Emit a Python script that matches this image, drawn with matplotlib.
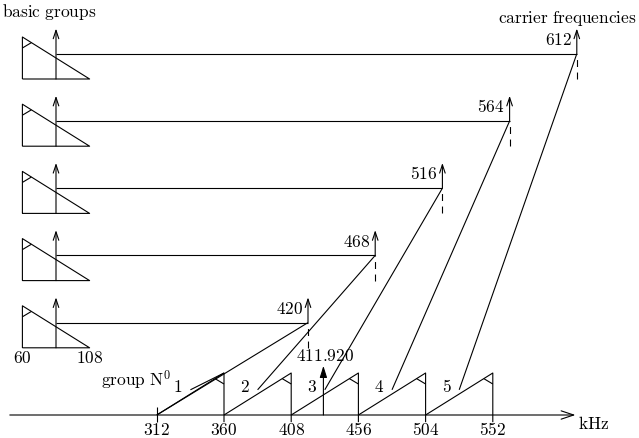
import matplotlib.pyplot as plt

plt.rcParams['mathtext.fontset'] = 'cm'
plt.rcParams['lines.scale_dashes'] = False

# data (kHz)
basic_band = [60, 108]
basic_carrier = 84            # drawn position of the carrier mark inside the basic group
carriers = [420, 468, 516, 564, 612]
group_edges = [312, 360, 408, 456, 504, 552]
group_labels = ['1', '2', '3', '4', '5']
pilot_label = '411.920'
pilot_pos = 431               # drawn position of the pilot arrow

# layout
PX_KHZ = 1.4                  # pixels per kHz
UNIT = 42                     # pixels per height unit (triangle height)
basic_shift = 156             # basic groups drawn shifted left
row_step = 1.6
FS = 12.5
LW = 0.8

fig = plt.figure(figsize=(6.39, 4.38), dpi=100)
ax = fig.add_axes([0, 0, 1, 1])
ax.set_xlim(200, 200 + 639 / PX_KHZ)
ax.set_ylim(-23 / UNIT, 415 / UNIT)
ax.axis('off')


def tex(s):
    return r'$\mathrm{' + s + '}$'


def line(xs, ys, **kw):
    ax.plot(xs, ys, color='k', lw=LW, solid_capstyle='butt', **kw)


def arrow(x0, y0, x1, y1, style='->,head_length=0.6,head_width=0.2'):
    ax.annotate('', xy=(x1, y1), xytext=(x0, y0),
                arrowprops=dict(arrowstyle=style, lw=LW, color='k',
                                shrinkA=0, shrinkB=0))


# basic groups and carrier frequencies
lo, hi = basic_band[0] + basic_shift, basic_band[1] + basic_shift
bc = basic_carrier + basic_shift
hook_dx = 9 / PX_KHZ
for k, c in enumerate(carriers, start=1):
    b = row_step * k
    line([lo, lo, hi, lo], [b, b + 1, b, b])
    line([lo, lo + hook_dx], [b + 1 - 11 / UNIT, b + 1 - hook_dx / (hi - lo)])
    arrow(bc, b, bc, b + 1.2)
    line([bc, c], [b + 0.6, b + 0.6])
    line([c, c], [b, b + 0.6], dashes=(5, 4))
    arrow(c, b + 0.6, c, b + 1.2)
    ax.text(c - 3.6, b + 0.93, tex(str(c)), fontsize=FS, ha='right', va='center')
ax.text(lo, row_step - 0.25, tex(str(basic_band[0])), fontsize=FS, ha='center', va='center')
ax.text(hi, row_step - 0.25, tex(str(basic_band[1])), fontsize=FS, ha='center', va='center')
ax.text(235, 9.6, tex(r'basic\ groups'), fontsize=FS, ha='center', va='center')
ax.text(605, 9.45, tex(r'carrier\ frequencies'), fontsize=FS, ha='center', va='center')

# frequency axis
arrow(207, 0, 611, 0, '->,head_length=0.9,head_width=0.3')
ax.text(613, -0.21, tex('kHz'), fontsize=FS, ha='left', va='center')
line([group_edges[0]] * 2, [0.19, -0.17])
for f in group_edges:
    ax.text(f, -0.36, tex(str(f)), fontsize=FS, ha='center', va='center')

# translated groups (inverted)
for i, lab in enumerate(group_labels):
    a, e = group_edges[i], group_edges[i + 1]
    line([a, e, e], [0, 1, -0.17])
    line([e, e - hook_dx], [1 - 11 / UNIT, 1 - hook_dx / (e - a)])
    ax.text(a + 15, 0.67, tex(lab), fontsize=FS, ha='center', va='center')
ax.text(297, 0.83, tex(r'group\ N') + r'$^0$', fontsize=FS, ha='center', va='center')

# connections carrier -> group
for i, c in enumerate(carriers):
    b = row_step * (i + 1) + 0.6
    if i == 0:
        line([c, group_edges[0]], [b, 0])
        line([group_edges[0] + 24, group_edges[1]], [0.6, 1])
    else:
        line([c, group_edges[i] + 24], [b, 0.6])

# pilot
arrow(pilot_pos, 0, pilot_pos, 1.17, '-|>,head_length=0.7,head_width=0.22')
ax.text(pilot_pos + 1.5, 1.4, tex(pilot_label), fontsize=FS, ha='center', va='center')

fig.savefig('out.png', dpi=100)
